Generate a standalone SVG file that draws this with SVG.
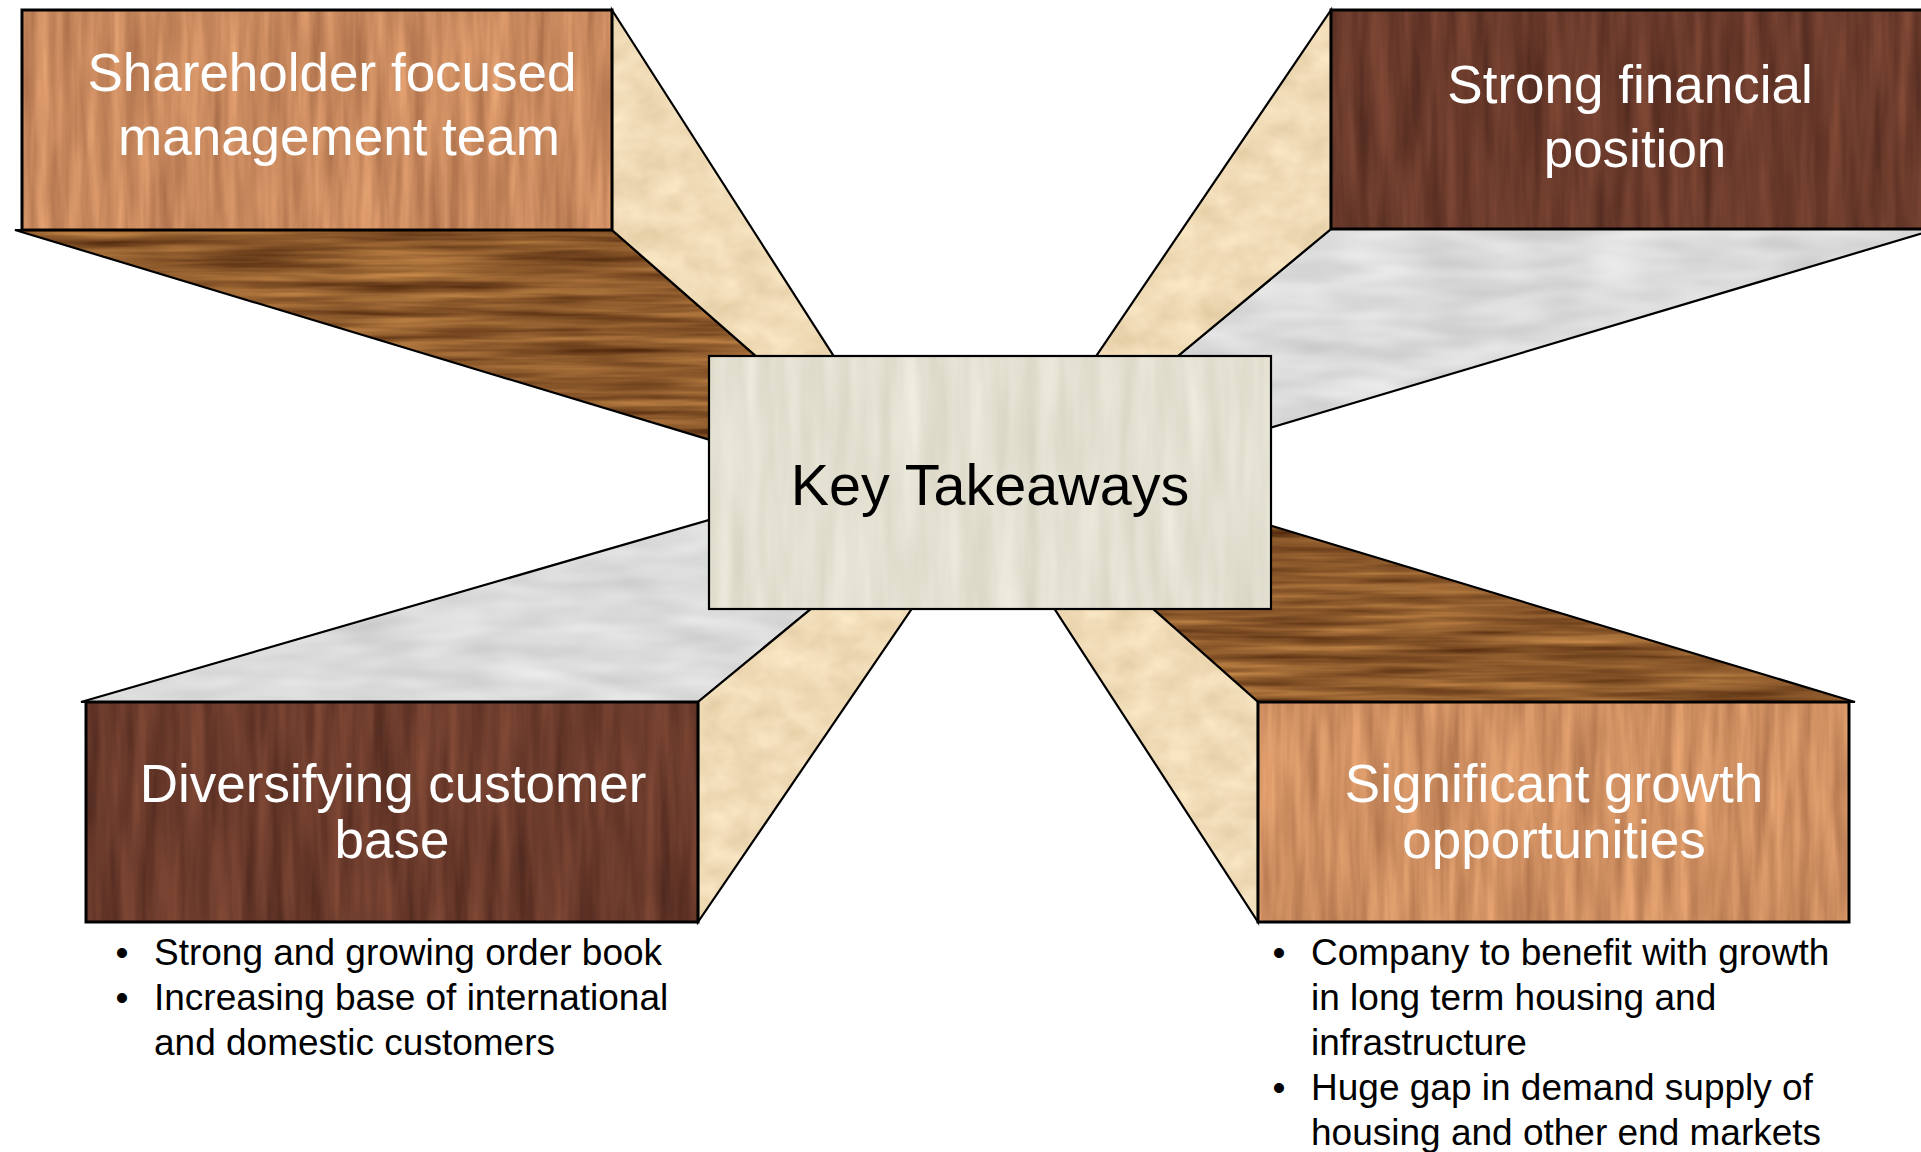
<svg xmlns="http://www.w3.org/2000/svg" width="1921" height="1152" viewBox="0 0 1921 1152">
<style>
.t{font-family:"Liberation Sans",Arial,Helvetica,sans-serif}
.h{font-size:53px;fill:#fff;text-anchor:middle}
.k{font-size:57.5px;fill:#000;text-anchor:middle}
.b{font-size:37px;fill:#000}
.bm{font-size:37px;fill:#000;text-anchor:middle}
.edge{fill:none;stroke:#000;stroke-width:2.2;stroke-linejoin:miter}
.fedge{fill:none;stroke:#000;stroke-width:3}
.oakV{fill:#C98A5E;filter:url(#fOakV)}
.oakV2{fill:#CF9061;filter:url(#fOakV2)}
.walV{fill:#6B3A2B;filter:url(#fWalV)}
.oakH{fill:#8C5A2B;filter:url(#fOakH)}
.tan{fill:#F0DBB5;filter:url(#fTan)}
.grey{fill:#DBDBDB;filter:url(#fGrey)}
.birch{fill:#E3E0D1;filter:url(#fBirch)}
</style>
<defs>
<filter id="fOakV" x="0" y="0" width="1" height="1" color-interpolation-filters="sRGB">
<feTurbulence type="fractalNoise" baseFrequency="0.08 0.007" numOctaves="3" seed="4"/>
<feColorMatrix type="matrix" values="0.32 0 0 0 0.63 0.28 0 0 0 0.4 0.22 0 0 0 0.26 0 0 0 0 1"/>
<feComposite in2="SourceGraphic" operator="in"/>
</filter>
<filter id="fOakV2" x="0" y="0" width="1" height="1" color-interpolation-filters="sRGB">
<feTurbulence type="fractalNoise" baseFrequency="0.08 0.007" numOctaves="3" seed="11"/>
<feColorMatrix type="matrix" values="0.32 0 0 0 0.65 0.28 0 0 0 0.42 0.22 0 0 0 0.27 0 0 0 0 1"/>
<feComposite in2="SourceGraphic" operator="in"/>
</filter>
<filter id="fWalV" x="0" y="0" width="1" height="1" color-interpolation-filters="sRGB">
<feTurbulence type="fractalNoise" baseFrequency="0.07 0.006" numOctaves="3" seed="7"/>
<feColorMatrix type="matrix" values="0.28 0 0 0 0.28 0.18 0 0 0 0.14 0.13 0 0 0 0.105 0 0 0 0 1"/>
<feComposite in2="SourceGraphic" operator="in"/>
</filter>
<filter id="fOakH" x="0" y="0" width="1" height="1" color-interpolation-filters="sRGB">
<feTurbulence type="fractalNoise" baseFrequency="0.006 0.11" numOctaves="3" seed="2"/>
<feColorMatrix type="matrix" values="0.55 0 0 0 0.275 0.45 0 0 0 0.125 0.28 0 0 0 0.03 0 0 0 0 1"/>
<feComposite in2="SourceGraphic" operator="in"/>
</filter>
<filter id="fTan" x="0" y="0" width="1" height="1" color-interpolation-filters="sRGB">
<feTurbulence type="fractalNoise" baseFrequency="0.03 0.04" numOctaves="3" seed="5"/>
<feColorMatrix type="matrix" values="0.12 0 0 0 0.88 0.14 0 0 0 0.79 0.17 0 0 0 0.63 0 0 0 0 1"/>
<feComposite in2="SourceGraphic" operator="in"/>
</filter>
<filter id="fGrey" x="0" y="0" width="1" height="1" color-interpolation-filters="sRGB">
<feTurbulence type="fractalNoise" baseFrequency="0.012 0.05" numOctaves="2" seed="9"/>
<feColorMatrix type="matrix" values="0.18 0 0 0 0.77 0.18 0 0 0 0.77 0.18 0 0 0 0.77 0 0 0 0 1"/>
<feComposite in2="SourceGraphic" operator="in"/>
</filter>
<filter id="fBirch" x="0" y="0" width="1" height="1" color-interpolation-filters="sRGB">
<feTurbulence type="fractalNoise" baseFrequency="0.05 0.006" numOctaves="3" seed="13"/>
<feColorMatrix type="matrix" values="0.12 0 0 0 0.83 0.12 0 0 0 0.82 0.14 0 0 0 0.75 0 0 0 0 1"/>
<feComposite in2="SourceGraphic" operator="in"/>
</filter>
<polygon id="tlSide" points="612,10 849,380 783,380 612,230"/>
<polygon id="tlBot" points="15,230 612,230 783,380 783,462"/>
<polygon id="trSide" points="1331,10 1331,229 1149,380 1080,380"/>
<polygon id="trBot" points="1331,229 1930,229 1930,231 1149,464 1149,380"/>
<polygon id="blTop" points="81,702 698,702 840,585 840,482"/>
<polygon id="blSide" points="698,702 698,922 928,585 840,585"/>
<polygon id="brTop" points="1258,702 1855,702 1126,482 1126,585"/>
<polygon id="brSide" points="1258,702 1258,922 1039,585 1126,585"/>
<rect id="tlFront" x="22" y="10" width="590" height="220"/>
<rect id="trFront" x="1331" y="10" width="600" height="219"/>
<rect id="blFront" x="86" y="702" width="612" height="220"/>
<rect id="brFront" x="1258" y="702" width="591" height="220"/>
<rect id="center" x="709" y="356" width="562" height="253"/>
</defs>
<rect x="0" y="0" width="1921" height="1152" fill="#fff"/>
<g id="connectors">
<use href="#tlBot" class="oakH"/><use href="#tlBot" class="edge"/>
<use href="#tlSide" class="tan"/><use href="#tlSide" class="edge"/>
<use href="#trBot" class="grey"/><use href="#trBot" class="edge"/>
<use href="#trSide" class="tan"/><use href="#trSide" class="edge"/>
<use href="#blTop" class="grey"/><use href="#blTop" class="edge"/>
<use href="#blSide" class="tan"/><use href="#blSide" class="edge"/>
<use href="#brTop" class="oakH"/><use href="#brTop" class="edge"/>
<use href="#brSide" class="tan"/><use href="#brSide" class="edge"/>
</g>
<g id="node-shareholder">
<use href="#tlFront" class="oakV"/><use href="#tlFront" class="fedge"/>
<text class="t h" x="332" y="91">Shareholder focused</text>
<text class="t h" x="339" y="155">management team</text>
</g>
<g id="node-financial">
<use href="#trFront" class="walV"/><use href="#trFront" class="fedge"/>
<text class="t h" x="1630" y="103">Strong financial</text>
<text class="t h" x="1635" y="167">position</text>
</g>
<g id="node-customer">
<use href="#blFront" class="walV"/><use href="#blFront" class="fedge"/>
<text class="t h" x="393" y="802">Diversifying customer</text>
<text class="t h" x="392" y="858">base</text>
<text class="t bm" x="122" y="965">•</text>
<text class="t b" x="154" y="965">Strong and growing order book</text>
<text class="t bm" x="122" y="1010">•</text>
<text class="t b" x="154" y="1010">Increasing base of international</text>
<text class="t b" x="154" y="1055">and domestic customers</text>
</g>
<g id="node-growth">
<use href="#brFront" class="oakV2"/><use href="#brFront" class="fedge"/>
<text class="t h" x="1554" y="802">Significant growth</text>
<text class="t h" x="1554" y="858">opportunities</text>
<text class="t bm" x="1279" y="965">•</text>
<text class="t b" x="1311" y="965">Company to benefit with growth</text>
<text class="t b" x="1311" y="1010">in long term housing and</text>
<text class="t b" x="1311" y="1055">infrastructure</text>
<text class="t bm" x="1279" y="1100">•</text>
<text class="t b" x="1311" y="1100">Huge gap in demand supply of</text>
<text class="t b" x="1311" y="1145">housing and other end markets</text>
</g>
<g id="node-key">
<use href="#center" class="birch"/><use href="#center" class="edge"/>
<text class="t k" x="990" y="505">Key Takeaways</text>
</g>
</svg>
